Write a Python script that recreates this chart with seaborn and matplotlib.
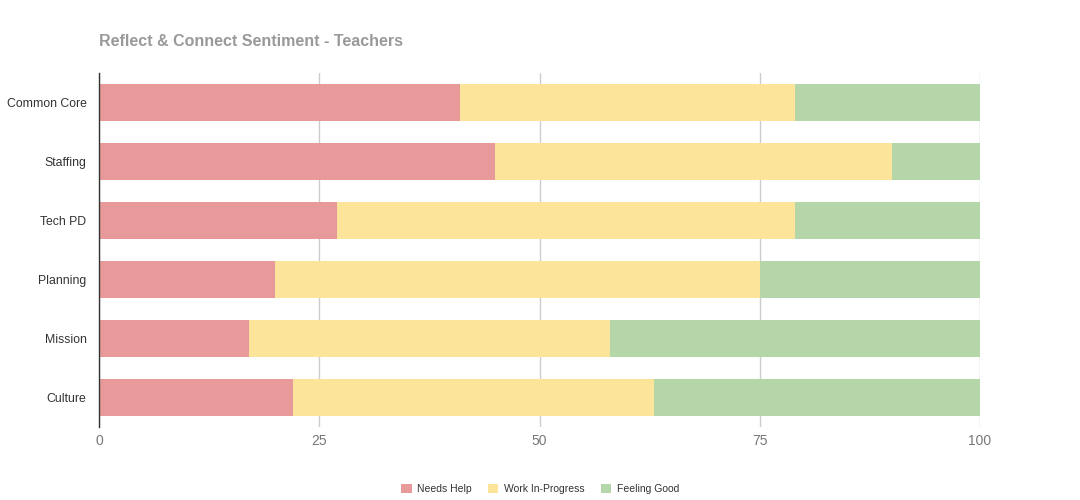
import matplotlib
matplotlib.use("Agg")
from matplotlib import pyplot as plt
from matplotlib.patches import Patch
import seaborn as sns
import pandas as pd

categories = ["Common Core", "Staffing", "Tech PD", "Planning", "Mission", "Culture"]
needs_help = [41, 45, 27, 20, 17, 22]
work_in_progress = [38, 45, 52, 55, 41, 41]
feeling_good = [21, 10, 21, 25, 42, 37]

series = ["Needs Help", "Work In-Progress", "Feeling Good"]
colors = ["#E89A9A", "#FCE59B", "#B5D6A9"]

df = pd.DataFrame({
    "category": categories,
    "Needs Help": needs_help,
    "Work In-Progress": work_in_progress,
    "Feeling Good": feeling_good,
})
# cumulative ends for stacking
df["c1"] = df["Needs Help"]
df["c2"] = df["c1"] + df["Work In-Progress"]
df["c3"] = df["c2"] + df["Feeling Good"]

sns.set_theme(style="white")
plt.rcParams["font.family"] = ["Liberation Sans", "DejaVu Sans"]

fig = plt.figure(figsize=(10.8, 5), dpi=100)
ax = fig.add_axes([99 / 1080, 1 - 427 / 500, 881 / 1080, 354 / 500])

for col, color in zip(["c3", "c2", "c1"], colors[::-1]):
    sns.barplot(data=df, x=col, y="category", color=color, width=0.62,
                saturation=1, linewidth=0, ax=ax, zorder=3)

ax.set_xlim(0, 100)
ax.set_ylim(5.5, -0.5)
ax.set_xticks([0, 25, 50, 75, 100])
ax.xaxis.grid(True, color="#cccccc", linewidth=1, zorder=0)
ax.set_axisbelow(True)
ax.set_xlabel("")
ax.set_ylabel("")
for s in ["top", "right", "bottom"]:
    ax.spines[s].set_visible(False)
ax.spines["left"].set_color("#333333")
ax.spines["left"].set_linewidth(1)
ax.spines["left"].set_zorder(5)
ax.tick_params(axis="x", labelsize=10, length=0, pad=5)
ax.tick_params(axis="y", colors="#333333", labelsize=8.8, length=0, pad=9)
for lbl in ax.get_xticklabels():
    lbl.set_color("#777777")

fig.text(99 / 1080, 1 - 41 / 500, "Reflect & Connect Sentiment - Teachers",
         fontsize=11.5, fontweight="bold", color="#999999", va="center", ha="left")

handles = [Patch(facecolor=c, edgecolor="none", label=s) for s, c in zip(series, colors)]
fig.legend(handles=handles, loc="center", bbox_to_anchor=(540 / 1080, 1 - 489 / 500),
           ncol=3, frameon=False, fontsize=7.5, handlelength=1.0, handleheight=1.0,
           handletextpad=0.5, columnspacing=1.6, labelcolor="#333333")

fig.savefig("out.png", dpi=100)
